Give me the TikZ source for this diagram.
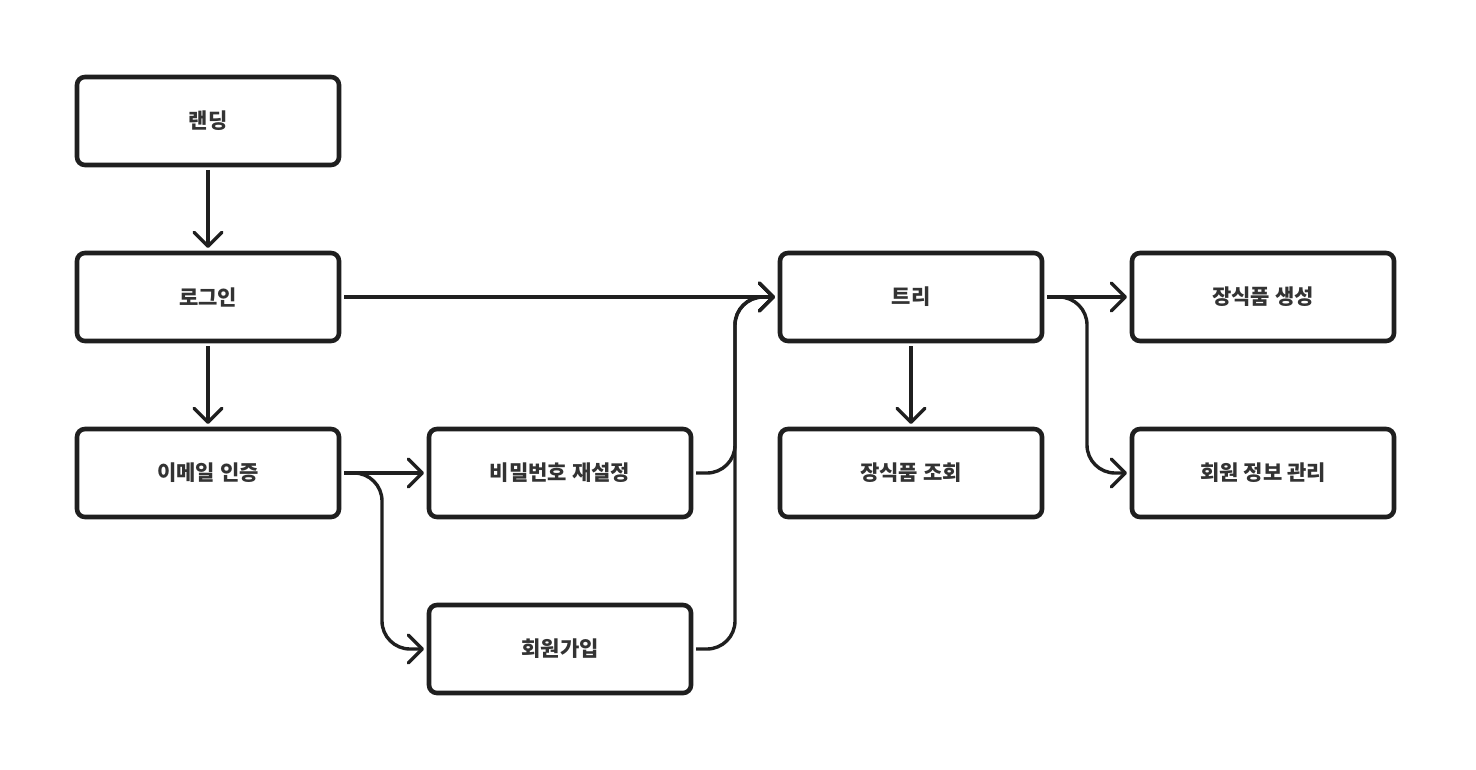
\documentclass[tikz,border=0pt]{standalone}
\usepackage{fontspec}
\newfontfamily\kr{Noto Sans CJK KR}
\usetikzlibrary{arrows.meta}

\begin{document}
\begin{tikzpicture}[x=0.5pt,y=-0.5pt,
    box/.style={draw=black!88,line width=2.3pt,rounded corners=4pt,
      minimum width=131pt,minimum height=44pt,outer sep=2.5pt,
      font=\kr\bfseries\fontsize{10.5}{12}\selectfont,text=black!80},
    link/.style={draw=black!88,line width=1.7pt,rounded corners=14pt,
      -{Straight Barb[length=7pt,width=14pt,line cap=round,round]}}]
    \useasboundingbox (0,0) rectangle (1476,770);
    % screens
    \node[box] (landing) at (208,121) {랜딩};
    \node[box] (login)   at (208,297) {로그인};
    \node[box] (email)   at (208,473) {이메일 인증};
    \node[box] (reset)   at (560,473) {비밀번호 재설정};
    \node[box] (signup)  at (560,649) {회원가입};
    \node[box] (tree)    at (911,297) {트리};
    \node[box] (view)    at (911,473) {장식품 조회};
    \node[box] (create)  at (1263,297) {장식품 생성};
    \node[box] (manage)  at (1263,473) {회원 정보 관리};
    % flow
    \draw[link] (landing) -- (login);
    \draw[link] (login) -- (email);
    \draw[link] (login) -- (tree);
    \draw[link] (email) -- (reset);
    \draw[link] (email.east) -- ++(19pt,0) |- (signup.west);
    \draw[link] (reset.east) -- ++(19.5pt,0) |- (tree.west);
    \draw[link] (signup.east) -- ++(19.5pt,0) |- (tree.west);
    \draw[link] (tree) -- (view);
    \draw[link] (tree) -- (create);
    \draw[link] (tree.east) -- ++(20pt,0) |- (manage.west);
\end{tikzpicture}
\end{document}
